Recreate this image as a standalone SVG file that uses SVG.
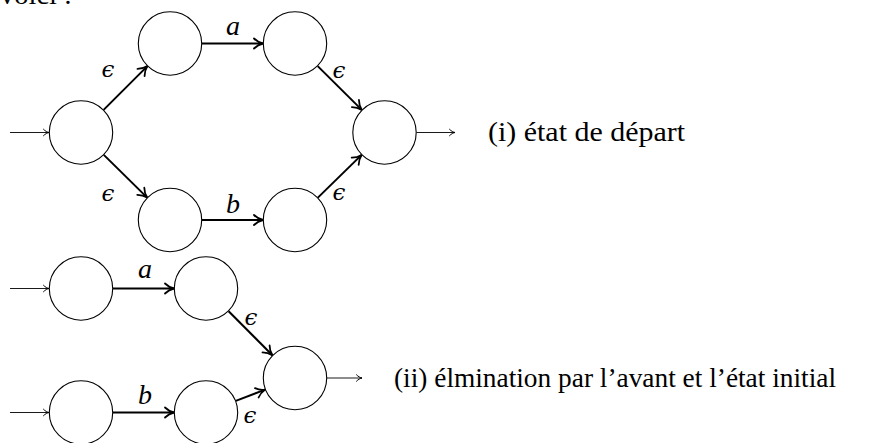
<svg xmlns="http://www.w3.org/2000/svg" width="881" height="443" viewBox="0 0 881 443">
<defs>
<style>
.node{fill:#fff;stroke:#000;stroke-width:1.1}
.edge{stroke:#000;stroke-width:2;fill:none;marker-end:url(#ah)}
.io{stroke:#000;stroke-width:0.9;fill:none;marker-end:url(#ahs)}
.txt{font-family:"Liberation Serif","DejaVu Serif",serif;font-size:28px;fill:#000}
.lbl{font-family:"Liberation Serif","DejaVu Serif",serif;font-style:italic;font-size:28px;fill:#000;text-anchor:middle}
.eps{font-family:"DejaVu Serif","Liberation Serif",serif;font-style:italic;font-size:23px;fill:#000;text-anchor:middle}
</style>
<marker id="ah" markerUnits="userSpaceOnUse" viewBox="-11 -7 13 14" refX="0" refY="0" markerWidth="13" markerHeight="14" orient="auto">
<path d="M-9,-5 C-6,-2 -2.6,-0.6 0,0 C-2.6,0.6 -6,2 -9,5" fill="none" stroke="#000" stroke-width="1.8" stroke-linecap="round" stroke-linejoin="round"/>
</marker>
<marker id="ahs" markerUnits="userSpaceOnUse" viewBox="-8 -5 10 10" refX="0" refY="0" markerWidth="10" markerHeight="10" orient="auto">
<path d="M-5.5,-3.2 C-3.7,-1.2 -1.6,-0.4 0,0 C-1.6,0.4 -3.7,1.2 -5.5,3.2" fill="none" stroke="#000" stroke-width="1" stroke-linecap="round" stroke-linejoin="round"/>
</marker>
</defs>

<text class="txt" x="0" y="4" textLength="72" lengthAdjust="spacingAndGlyphs">voici :</text>

<g id="connectors">
<line class="io" x1="10" y1="132.5" x2="49" y2="132.5"/>
<line class="edge" x1="103.6" y1="109.9" x2="147.4" y2="66.1"/>
<line class="edge" x1="103.8" y1="154.9" x2="147.2" y2="197.6"/>
<line class="edge" x1="202" y1="43.5" x2="263" y2="43.5"/>
<line class="edge" x1="202" y1="220" x2="263" y2="220"/>
<line class="edge" x1="317.7" y1="66.1" x2="361.8" y2="109.9"/>
<line class="edge" x1="317.9" y1="197.6" x2="361.6" y2="154.9"/>
<line class="io" x1="416.5" y1="132.5" x2="455" y2="132.5"/>

<line class="io" x1="10" y1="288.5" x2="49" y2="288.5"/>
<line class="io" x1="10" y1="412.5" x2="49" y2="412.5"/>
<line class="edge" x1="113" y1="288.5" x2="174" y2="288.5"/>
<line class="edge" x1="113" y1="412.5" x2="174" y2="412.5"/>
<line class="edge" x1="228.6" y1="311.2" x2="272.4" y2="355.3"/>
<line class="edge" x1="235.8" y1="400.9" x2="265.2" y2="389.6"/>
<line class="io" x1="327" y1="378" x2="362" y2="378"/>

<text class="eps" x="108" y="77">ϵ</text>
<text class="eps" x="108" y="201">ϵ</text>
<text class="lbl" x="233" y="35">a</text>
<text class="lbl" x="233" y="213">b</text>
<text class="eps" x="339" y="78">ϵ</text>
<text class="eps" x="339" y="200">ϵ</text>
<text class="lbl" x="145" y="278">a</text>
<text class="lbl" x="145" y="404">b</text>
<text class="eps" x="251" y="325">ϵ</text>
<text class="eps" x="250" y="423">ϵ</text>
</g>

<g id="s0"><circle class="node" cx="81" cy="132.5" r="31.7"/></g>
<g id="s1"><circle class="node" cx="170" cy="43.5" r="31.7"/></g>
<g id="s2"><circle class="node" cx="295" cy="43.5" r="31.7"/></g>
<g id="s3"><circle class="node" cx="170" cy="220" r="31.7"/></g>
<g id="s4"><circle class="node" cx="295" cy="220" r="31.7"/></g>
<g id="s5"><circle class="node" cx="384.5" cy="132.5" r="31.7"/></g>

<g id="t0"><circle class="node" cx="81" cy="288.5" r="31.7"/></g>
<g id="t1"><circle class="node" cx="206" cy="288.5" r="31.7"/></g>
<g id="t2"><circle class="node" cx="81" cy="412.5" r="31.7"/></g>
<g id="t3"><circle class="node" cx="206" cy="412.5" r="31.7"/></g>
<g id="t4"><circle class="node" cx="295" cy="378" r="31.7"/></g>

<text class="txt" x="488" y="141" textLength="197" lengthAdjust="spacingAndGlyphs">(i) état de départ</text>
<text class="txt" x="394" y="387" textLength="442" lengthAdjust="spacingAndGlyphs">(ii) élmination par l’avant et l’état initial</text>
</svg>
